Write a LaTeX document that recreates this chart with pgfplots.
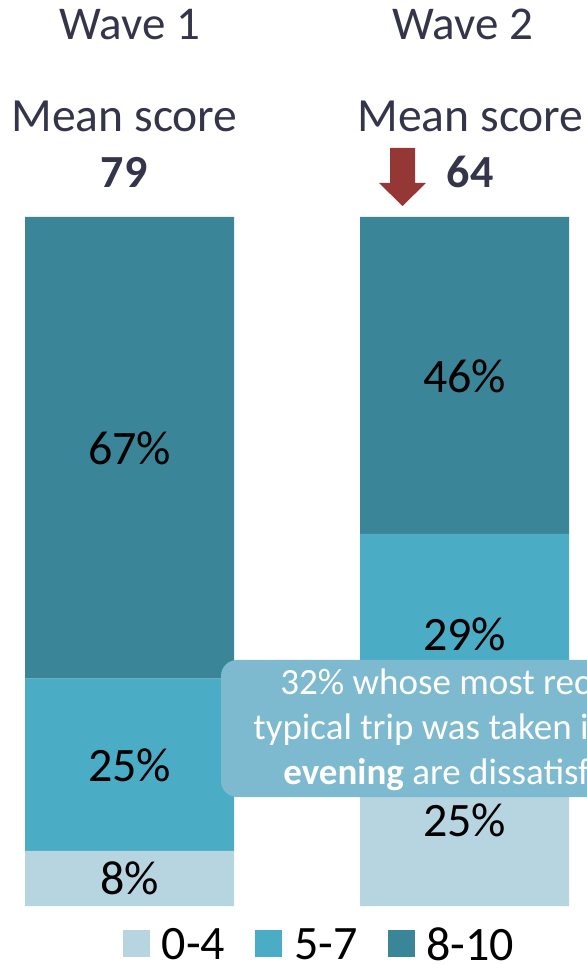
\documentclass[border=0pt]{standalone}
\usepackage{fontspec}
\setmainfont{Carlito}
\usepackage{pgfplots}
\pgfplotsset{compat=1.18}
\definecolor{lowc}{HTML}{B6D5E0}
\definecolor{midc}{HTML}{4BACC6}
\definecolor{highc}{HTML}{3A8698}
\definecolor{titlec}{HTML}{34354A}
\definecolor{boxc}{HTML}{7DB9CF}
\definecolor{arrowc}{HTML}{953735}
\tikzset{
  seglab/.style={font=\fontsize{24}{28}\selectfont, text=black, anchor=center},
  head/.style={text=titlec, anchor=base},
  callout/.style={text=white, anchor=base west, inner sep=0pt, font=\fontsize{18.5}{22}\selectfont},
}

% 1 px of the reference = 0.5pt; bars span px rows 217..906
\begin{document}
\begin{tikzpicture}
\begin{axis}[
  at={(0,0)}, anchor=south west,
  scale only axis, width=293pt, height=344.5pt,
  xmin=0, xmax=586, ymin=0, ymax=100,
  hide axis, clip=false,
  ybar stacked, bar width=104.5pt,
  legend columns=3,
  legend style={draw=none, fill=none, at={(0.547,-0.057)}, anchor=center,
    nodes={font=\fontsize{24}{28}\selectfont, inner xsep=2pt},
    /tikz/every odd column/.append style={column sep=4pt},
    /tikz/every even column/.append style={column sep=13pt}},
  legend image code/.code={\draw[#1,draw=none] (0pt,-6pt) rectangle (13.5pt,7.5pt);},
]
\addplot[fill=lowc, draw=none] coordinates {(129.5,8) (464.5,25)};
\addlegendentry{0-4}
\addplot[fill=midc, draw=none] coordinates {(129.5,25) (464.5,29)};
\addlegendentry{5-7}
\addplot[fill=highc, draw=none] coordinates {(129.5,67) (464.5,46)};
\addlegendentry{8-10}
\end{axis}

% annotations in reference pixel coordinates, drawn over the bars
\begin{scope}[x=0.5pt, y=-0.5pt, yshift=453pt]
% segment labels at the centre of each segment
\node[seglab] at (129.5,878.5) {8\%};
\node[seglab] at (129.5,765) {25\%};
\node[seglab] at (129.5,448) {67\%};
\node[seglab] at (464.5,820) {25\%};
\node[seglab] at (464.5,634.5) {29\%};
\node[seglab] at (464.5,376) {46\%};

\node[head, font=\fontsize{23.5}{28}\selectfont] at (130,40) {Wave 1};
\node[head, font=\fontsize{23.5}{28}\selectfont] at (463,40) {Wave 2};
\node[head, font=\fontsize{23.8}{28}\selectfont] at (124.5,132) {Mean score};
\node[head, font=\fontsize{23.8}{28}\selectfont] at (470.5,132) {Mean score};
\node[head, font=\fontsize{23}{28}\selectfont\bfseries] at (124,188) {79};
\node[head, font=\fontsize{23}{28}\selectfont\bfseries] at (470,188) {64};

\fill[arrowc] (390,148) -- (415,148) -- (415,183) -- (426,183)
  -- (402.5,206) -- (379,183) -- (390,183) -- cycle;

\fill[boxc, rounded corners=8pt] (221,660) rectangle (720,797);
\node[callout] at (280,695) {32\% whose most recent};
\node[callout] at (253,740) {typical trip was taken in the};
\node[callout] at (283,785) {\textbf{evening} are dissatisfied};
\end{scope}
\pgfresetboundingbox
\useasboundingbox (0,-29pt) rectangle (293pt,453pt);
\end{tikzpicture}
\end{document}
